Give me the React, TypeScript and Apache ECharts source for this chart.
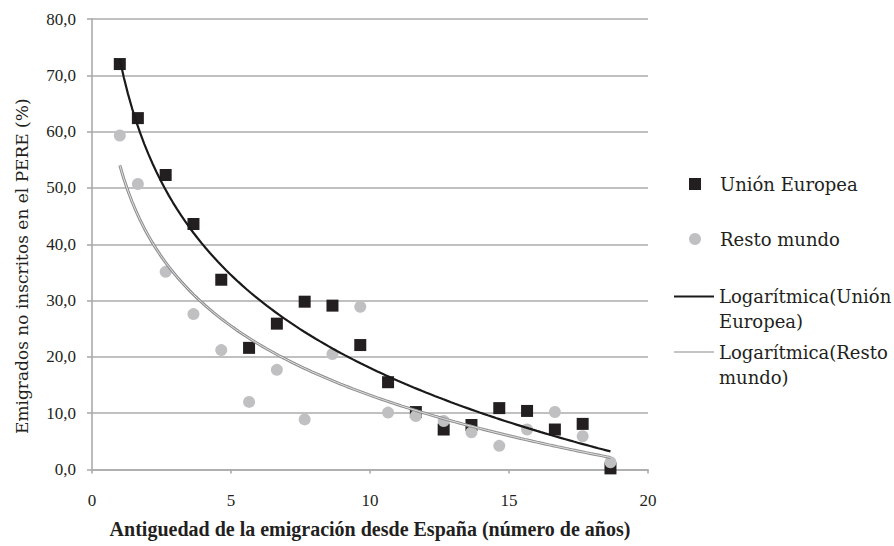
import React, { useEffect, useRef } from "react";
import * as echarts from "echarts";

// Years since emigration (x) and % of emigrants not registered in PERE (y)
const years = [1, 1.65, 2.65, 3.65, 4.65, 5.65, 6.65, 7.65, 8.65, 9.65, 10.65, 11.65, 12.65, 13.65, 14.65, 15.65, 16.65, 17.65, 18.65];
const unionEuropea = [72.0, 62.4, 52.3, 43.6, 33.7, 21.6, 25.9, 29.8, 29.1, 22.1, 15.5, 10.2, 7.1, 7.9, 10.9, 10.4, 7.1, 8.1, 0.2];
const restoMundo = [59.3, 50.7, 35.1, 27.6, 21.2, 12.0, 17.7, 8.9, 20.5, 28.9, 10.1, 9.5, 8.6, 6.6, 4.2, 7.1, 10.2, 5.9, 1.3];

const NAME_UE = "Unión Europea";
const NAME_RM = "Resto mundo";
const NAME_LOG_UE = "Logarítmica(Unión Europea)";
const NAME_LOG_RM = "Logarítmica(Resto mundo)";

// Least-squares logarithmic trendline y = a + b ln(x), as the spreadsheet computes it
function logFit(xs: number[], ys: number[]) {
  const n = xs.length;
  const ls = xs.map((x) => Math.log(x));
  const mL = ls.reduce((s, v) => s + v, 0) / n;
  const mY = ys.reduce((s, v) => s + v, 0) / n;
  let sxy = 0;
  let sxx = 0;
  for (let i = 0; i < n; i++) {
    sxy += (ls[i] - mL) * (ys[i] - mY);
    sxx += (ls[i] - mL) * (ls[i] - mL);
  }
  const b = sxy / sxx;
  const a = mY - b * mL;
  return { a, b };
}

function trendPoints(xs: number[], ys: number[]) {
  const { a, b } = logFit(xs, ys);
  const x0 = Math.min(...xs);
  const x1 = Math.max(...xs);
  const steps = 120;
  const pts: number[][] = [];
  for (let i = 0; i <= steps; i++) {
    const x = x0 + ((x1 - x0) * i) / steps;
    pts.push([x, a + b * Math.log(x)]);
  }
  return pts;
}

const TEXT = "#231f20";
const GRID = "#ababab";
const SERIF_TICK = "'Liberation Serif', serif";
const SERIF = "'DejaVu Serif', serif";

export default function App() {
  const ref = useRef<HTMLDivElement>(null);

  useEffect(() => {
    if (!ref.current) return;
    const chart = echarts.init(ref.current, undefined, { renderer: "svg" });

    const ueData = years.map((x, i) => [x, unionEuropea[i]]);
    const rmData = years.map((x, i) => [x, restoMundo[i]]);
    const ueTrend = trendPoints(years, unionEuropea);
    const rmTrend = trendPoints(years, restoMundo);

    const legendText = {
      fontFamily: SERIF,
      fontSize: 18,
      color: TEXT,
      lineHeight: 25,
    };

    chart.setOption({
      animation: false,
      backgroundColor: "#ffffff",
      grid: { left: 92, right: 246, top: 19, bottom: 76.5 },
      xAxis: {
        type: "value",
        min: 0,
        max: 20,
        interval: 5,
        name: "Antiguedad de la emigración desde España (número de años)",
        nameLocation: "middle",
        nameGap: 49,
        nameTextStyle: { fontFamily: SERIF_TICK, fontSize: 20, fontWeight: "bold", color: TEXT },
        axisLine: { show: true, lineStyle: { color: GRID, width: 1.6 } },
        axisTick: { show: true, inside: false, length: 4, lineStyle: { color: GRID, width: 1.6 } },
        axisLabel: { fontFamily: SERIF_TICK, fontSize: 17, color: TEXT, margin: 22 },
        splitLine: { show: false },
      },
      yAxis: {
        type: "value",
        min: 0,
        max: 80,
        interval: 10,
        name: "Emigrados no inscritos en el PERE (%)",
        nameLocation: "middle",
        nameGap: 62,
        nameRotate: 90,
        nameTextStyle: { fontFamily: SERIF, fontSize: 17, color: TEXT, padding: [0, 44, 0, 0] },
        axisLine: { show: true, lineStyle: { color: GRID, width: 1.6 } },
        axisTick: { show: true, inside: false, length: 5, lineStyle: { color: GRID, width: 1.6 } },
        axisLabel: {
          fontFamily: SERIF_TICK,
          fontSize: 17,
          color: TEXT,
          margin: 16,
          formatter: (v: number) => v.toFixed(1).replace(".", ","),
        },
        splitLine: { show: true, lineStyle: { color: GRID, width: 1.6 } },
      },
      legend: [
        {
          data: [NAME_UE],
          left: 689,
          top: 171.5,
          padding: 0,
          itemWidth: 12,
          itemHeight: 12,
          textStyle: { ...legendText, padding: [0, 0, 0, 14] },
        },
        {
          data: [NAME_RM],
          left: 689,
          top: 226.5,
          padding: 0,
          itemWidth: 12,
          itemHeight: 12,
          textStyle: { ...legendText, padding: [0, 0, 0, 14] },
        },
        {
          data: [{ name: NAME_LOG_UE, itemStyle: { opacity: 0 } }],
          left: 673,
          top: 259,
          padding: 0,
          itemWidth: 40,
          itemHeight: 10,
          formatter: () => "\nLogarítmica(Unión\nEuropea)",
          textStyle: { ...legendText },
        },
        {
          data: [{ name: NAME_LOG_RM, itemStyle: { opacity: 0 }, lineStyle: { color: "#c4c4c4", width: 2 } }],
          left: 673,
          top: 314.5,
          padding: 0,
          itemWidth: 40,
          itemHeight: 10,
          formatter: () => "\nLogarítmica(Resto\nmundo)",
          textStyle: { ...legendText },
        },
      ],
      series: [
        {
          name: NAME_UE,
          type: "scatter",
          symbol: "rect",
          symbolSize: 12,
          itemStyle: { color: TEXT, opacity: 1 },
          data: ueData,
          z: 2,
        },
        {
          name: NAME_RM,
          type: "scatter",
          symbol: "circle",
          symbolSize: 12,
          itemStyle: { color: "#c0c0c2", opacity: 1 },
          data: rmData,
          z: 3,
        },
        {
          name: NAME_LOG_UE,
          type: "line",
          data: ueTrend,
          symbol: "none",
          showSymbol: false,
          itemStyle: { color: "#1a1a1a" },
          lineStyle: { color: "#1a1a1a", width: 2.2 },
          z: 5,
        },
        {
          name: NAME_LOG_RM,
          type: "line",
          data: rmTrend,
          symbol: "none",
          showSymbol: false,
          itemStyle: { color: "#8f8f8f" },
          lineStyle: { color: "#8f8f8f", width: 3 },
          z: 4,
        },
        {
          name: "rm-inner",
          type: "line",
          data: rmTrend,
          symbol: "none",
          showSymbol: false,
          silent: true,
          itemStyle: { color: "#e2e2e2" },
          lineStyle: { color: "#e2e2e2", width: 1 },
          z: 4,
        },
      ],
    });

    return () => chart.dispose();
  }, []);

  return (
    <div
      ref={ref}
      style={{ position: "fixed", left: 0, top: 0, width: 894, height: 546, background: "#fff" }}
    />
  );
}
